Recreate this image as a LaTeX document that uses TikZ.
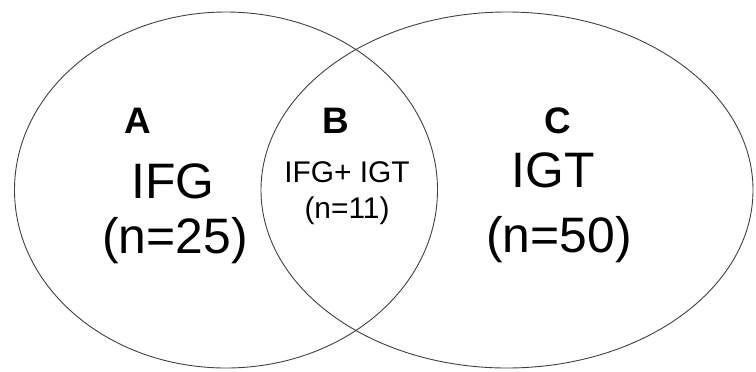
\documentclass[tikz,border=0pt]{standalone}
\usepackage{fontspec}
\setmainfont{Liberation Sans}
\usetikzlibrary{shapes.geometric}
\begin{document}
\begin{tikzpicture}[x=1bp, y=-1bp,
    set/.style={draw=black!75, line width=0.9bp, ellipse, inner sep=0pt},
    lab/.style={font=\fontsize{37}{40}\selectfont\bfseries},
    big/.style={font=\fontsize{50}{60}\selectfont},
    small/.style={font=\fontsize{30}{36}\selectfont}]
    \useasboundingbox (0,0) rectangle (756,371);
    % the two sets
    \node[set, minimum width=423bp, minimum height=356bp] (ifg) at (226,190) {};
    \node[set, minimum width=492bp, minimum height=356bp] (igt) at (507,190) {};
    % region letters
    \foreach \n/\x/\t in {la/138/A, lb/336/B, lc/558/C} {
      \node[lab] (\n) at (\x,121) {\t};
    }
    % region texts
    \node[big] (tifg) at (173,181) {IFG};
    \node[big] (nifg) at (175,241) {(n=25)};
    \node[small] (tboth) at (347,172) {IFG+ IGT};
    \node[small] (nboth) at (347,211) {(n=11)};
    \node[big] (tigt) at (553,170) {IGT};
    \node[big] (nigt) at (559,240) {(n=50)};
  \end{tikzpicture}
\end{document}
